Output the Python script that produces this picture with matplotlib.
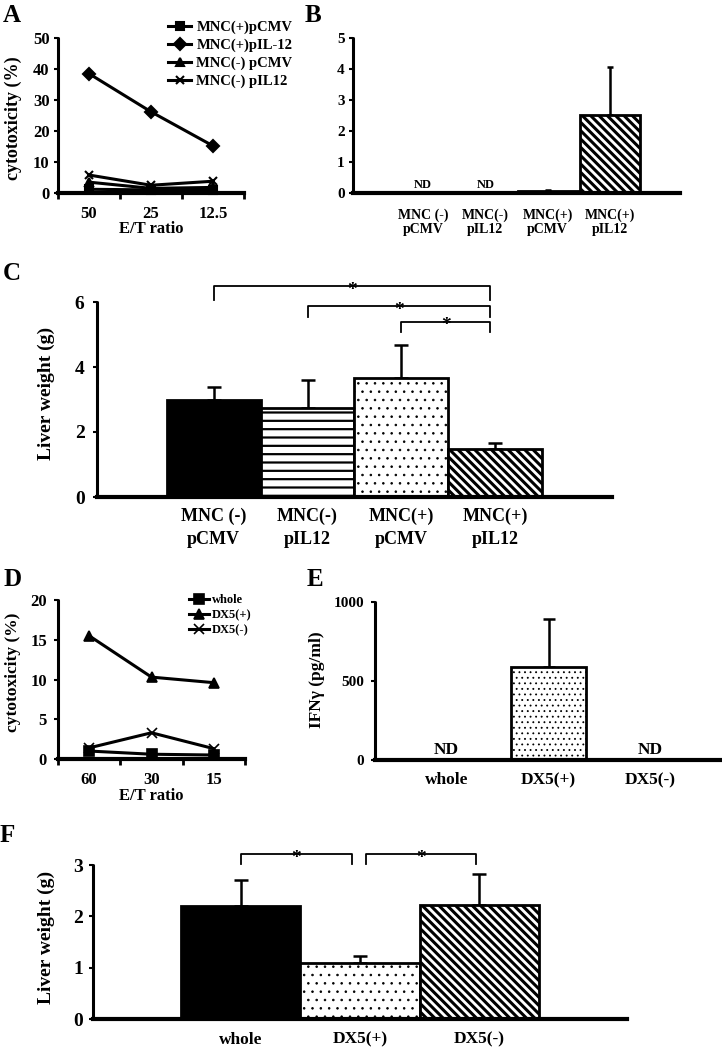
import matplotlib
matplotlib.use('Agg')
import matplotlib.pyplot as plt
import numpy as np

plt.rcParams['font.family'] = ['Liberation Serif', 'DejaVu Serif']
plt.rcParams['font.weight'] = 'bold'
plt.rcParams['axes.labelweight'] = 'bold'

# ---------------- data ----------------
# Panel A
a_ratios = ['50', '25', '12.5']
a_mnc_pos_pcmv = [1.2, 1.0, 1.0]
a_mnc_pos_pil12 = [38.5, 26.2, 15.2]
a_mnc_neg_pcmv = [3.5, 1.5, 1.8]
a_mnc_neg_pil12 = [5.8, 2.5, 3.8]
a_series_labels = ['MNC(+)pCMV', 'MNC(+)pIL-12', 'MNC(-) pCMV', 'MNC(-) pIL12']

# Panel B
b_groups = ['MNC (-)\npCMV', 'MNC(-)\npIL12', 'MNC(+)\npCMV', 'MNC(+)\npIL12']
b_values = [0.0, 0.0, 0.05, 2.52]
b_errors = [0.0, 0.0, 0.04, 1.55]
b_nd = [True, True, False, False]

# Panel C
c_groups = ['MNC (-)\npCMV', 'MNC(-)\npIL12', 'MNC(+)\npCMV', 'MNC(+)\npIL12']
c_values = [2.97, 2.73, 3.65, 1.48]
c_errors = [0.40, 0.87, 1.02, 0.19]

# Panel D
d_ratios = ['60', '30', '15']
d_whole = [1.0, 0.6, 0.5]
d_dx5_pos = [15.5, 10.3, 9.6]
d_dx5_neg = [1.4, 3.3, 1.3]
d_series_labels = ['whole', 'DX5(+)', 'DX5(-)']

# Panel E
e_groups = ['whole', 'DX5(+)', 'DX5(-)']
e_values = [0.0, 590.0, 0.0]
e_errors = [0.0, 300.0, 0.0]
e_nd = [True, False, True]

# Panel F
f_groups = ['whole', 'DX5(+)', 'DX5(-)']
f_values = [2.20, 1.10, 2.22]
f_errors = [0.50, 0.12, 0.60]

# ---------------- layout helpers ----------------
W, H = 722, 1048
fig = plt.figure(figsize=(W / 100, H / 100), dpi=100)


def rect(left, right, bottom, top):
    return [left / W, 1 - bottom / H, (right - left) / W, (bottom - top) / H]


def fx(x):
    return x / W


def fy(y):
    return 1 - y / H


def style(ax, lw=2.2):
    for s in ['top', 'right']:
        ax.spines[s].set_visible(False)
    ax.spines['left'].set_linewidth(lw)
    ax.spines['bottom'].set_linewidth(lw + 0.8)
    ax.spines['left'].set_capstyle('round')
    ax.tick_params(axis='y', direction='out', length=3, width=1.5)


def hatched_bars(ax, x, values, colors, hatches, hlws, width):
    bars = []
    for xi, v, c, h, hl in zip(x, values, colors, hatches, hlws):
        with plt.rc_context({'hatch.linewidth': hl}):
            b = ax.bar(xi, v, width=width, color=c, edgecolor='black',
                       linewidth=2.0, hatch=h, zorder=2)
        for p in b:
            if hasattr(p, 'set_hatch_linewidth'):
                p.set_hatch_linewidth(hl)
        bars.append(b)
    return bars


def up_errors(ax, x, values, errors, cap=4, lw=1.8):
    xs = [xi for xi, e in zip(x, errors) if e > 0]
    vs = [v for v, e in zip(values, errors) if e > 0]
    es = [e for e in errors if e > 0]
    ax.errorbar(xs, vs, yerr=[np.zeros(len(es)), es], fmt='none',
                ecolor='black', elinewidth=lw, capsize=cap, capthick=lw,
                zorder=1)


def bracket(ax, x1, x2, y, drop, size=14):
    ax.plot([x1, x1, x2, x2], [y - drop, y, y, y - drop], color='black',
            lw=1.3, clip_on=False)
    ax.annotate('*', xy=((x1 + x2) / 2, y), xytext=(0, -3),
                textcoords='offset points', ha='center', va='center',
                fontsize=size, annotation_clip=False)


# ---------------- Panel A ----------------
axA = fig.add_axes(rect(58, 244, 193, 38))
style(axA)
xa = np.arange(len(a_ratios))
markers_a = ['s', 'D', '^', 'x']
for vals, m, lab in zip([a_mnc_pos_pcmv, a_mnc_pos_pil12, a_mnc_neg_pcmv,
                         a_mnc_neg_pil12], markers_a, a_series_labels):
    axA.plot(xa, vals, color='black', lw=2.2, marker=m, markersize=6,
             markeredgewidth=1.5, label=lab, clip_on=False, zorder=3)
axA.set_xlim(-0.5, len(a_ratios) - 0.5)
axA.set_ylim(0, 50)
axA.set_yticks([0, 10, 20, 30, 40, 50])
axA.set_xticks(xa)
axA.set_xticklabels(a_ratios)
axA.set_xticks(np.arange(len(a_ratios) + 1) - 0.5, minor=True)
axA.tick_params(axis='x', which='major', length=0, pad=9, labelsize=12)
axA.tick_params(axis='x', which='minor', length=4, width=2, direction='out')
axA.tick_params(axis='y', labelsize=12, pad=3)
axA.legend(loc='upper left', bbox_to_anchor=(fx(168), fy(21)),
           bbox_transform=fig.transFigure, frameon=False, fontsize=10.5,
           handlelength=1.6, handletextpad=0.35, labelspacing=0.3,
           borderpad=0, borderaxespad=0)
fig.text(fx(151), fy(229), 'E/T ratio', ha='center', va='center', fontsize=12)
fig.text(fx(13), fy(118), 'cytotoxicity (%)', ha='center', va='center',
         rotation=90, fontsize=13)
fig.text(fx(3), fy(4), 'A', ha='left', va='top', fontsize=18)

# ---------------- Panel B ----------------
axB = fig.add_axes(rect(353, 680, 193, 38))
style(axB)
xb = np.arange(len(b_groups))
hatched_bars(axB, xb, b_values, ['white'] * 4,
             ['', '', '', '\\\\\\\\'], [1, 1, 1, 2.2], 0.96)
up_errors(axB, xb, b_values, b_errors, cap=2, lw=1.8)
for xi, nd in zip(xb, b_nd):
    if nd:
        axB.text(xi, 0.08, 'ND', ha='center', va='bottom', fontsize=9)
axB.set_xlim(-1.12, len(b_groups) - 1 + 1.12)
axB.set_ylim(0, 5)
axB.set_yticks([0, 1, 2, 3, 4, 5])
axB.set_xticks(xb)
axB.set_xticklabels(b_groups, fontsize=10, linespacing=1.1)
axB.tick_params(axis='x', length=0, pad=11)
axB.tick_params(axis='y', labelsize=11, pad=3)
fig.text(fx(305), fy(4), 'B', ha='left', va='top', fontsize=18)

# ---------------- Panel C ----------------
axC = fig.add_axes(rect(97, 612, 497, 302))
style(axC)
xc = np.arange(len(c_groups))
hatched_bars(axC, xc, c_values, ['black', 'white', 'white', 'white'],
             ['', '--', '..', '\\\\\\\\'], [1, 1.6, 0.6, 2.2], 1.0)
up_errors(axC, xc, c_values, c_errors, cap=5, lw=1.8)
axC.set_xlim(-1.24, len(c_groups) - 1 + 1.24)
axC.set_ylim(0, 6)
axC.set_yticks([0, 2, 4, 6])
axC.set_xticks(xc)
axC.set_xticklabels(c_groups, fontsize=13, linespacing=1.45)
axC.tick_params(axis='x', length=0, pad=8)
axC.tick_params(axis='y', labelsize=14, pad=6)
bracket(axC, 0, 2.94, 6.49, 0.43)
bracket(axC, 1, 2.94, 5.87, 0.34)
bracket(axC, 2, 2.94, 5.40, 0.32)
fig.text(fx(46), fy(393), 'Liver weight (g)', ha='center', va='center',
         rotation=90, fontsize=14)
fig.text(fx(3), fy(262), 'C', ha='left', va='top', fontsize=18)

# ---------------- Panel D ----------------
axD = fig.add_axes(rect(58, 245, 759, 600))
style(axD)
xd = np.arange(len(d_ratios))
markers_d = ['s', '^', 'x']
for vals, m, lab in zip([d_whole, d_dx5_pos, d_dx5_neg], markers_d,
                        d_series_labels):
    axD.plot(xd, vals, color='black', lw=2.2, marker=m, markersize=7,
             markeredgewidth=1.2, label=lab, clip_on=False, zorder=3)
axD.set_xlim(-0.5, len(d_ratios) - 0.5)
axD.set_ylim(0, 20)
axD.set_yticks([0, 5, 10, 15, 20])
axD.set_xticks(xd)
axD.set_xticklabels(d_ratios)
axD.set_xticks(np.arange(len(d_ratios) + 1) - 0.5, minor=True)
axD.tick_params(axis='x', which='major', length=0, pad=9, labelsize=12)
axD.tick_params(axis='x', which='minor', length=4, width=2, direction='out')
axD.tick_params(axis='y', labelsize=12, pad=5)
axD.legend(loc='upper left', bbox_to_anchor=(fx(189), fy(594)),
           bbox_transform=fig.transFigure, frameon=False, fontsize=9,
           handlelength=1.6, handletextpad=0.2, labelspacing=0.25,
           borderpad=0, borderaxespad=0)
fig.text(fx(151), fy(796), 'E/T ratio', ha='center', va='center', fontsize=12)
fig.text(fx(13), fy(672), 'cytotoxicity (%)', ha='center', va='center',
         rotation=90, fontsize=12.5)
fig.text(fx(3), fy(568), 'D', ha='left', va='top', fontsize=18)

# ---------------- Panel E ----------------
axE = fig.add_axes(rect(375, 722, 760, 602))
style(axE)
xe = np.arange(len(e_groups))
hatched_bars(axE, xe, e_values, ['white'] * 3, ['', '...', ''],
             [1, 0.6, 1], 0.74)
up_errors(axE, xe, e_values, e_errors, cap=4, lw=1.8)
for xi, nd in zip(xe, e_nd):
    if nd:
        axE.text(xi, 15, 'ND', ha='center', va='bottom', fontsize=12.5)
axE.set_xlim(-0.70, len(e_groups) - 1 + 0.70)
axE.set_ylim(0, 1000)
axE.set_yticks([0, 500, 1000])
axE.set_xticks(xe)
axE.set_xticklabels(e_groups, fontsize=12.5)
axE.tick_params(axis='x', length=0, pad=9)
axE.tick_params(axis='y', labelsize=11, pad=5)
fig.text(fx(317), fy(680), 'IFNγ (pg/ml)', ha='center', va='center',
         rotation=90, fontsize=12.5)
fig.text(fx(307), fy(568), 'E', ha='left', va='top', fontsize=18)

# ---------------- Panel F ----------------
axF = fig.add_axes(rect(93, 627, 1019, 865))
style(axF)
xf = np.arange(len(f_groups))
hatched_bars(axF, xf, f_values, ['black', 'white', 'white'],
             ['', '..', '\\\\\\\\'], [1, 0.6, 2.2], 1.0)
up_errors(axF, xf, f_values, f_errors, cap=5, lw=1.8)
axF.set_xlim(-1.24, len(f_groups) - 1 + 1.24)
axF.set_ylim(0, 3)
axF.set_yticks([0, 1, 2, 3])
axF.set_xticks(xf)
axF.set_xticklabels(f_groups, fontsize=12.5)
axF.tick_params(axis='x', length=0, pad=9)
axF.tick_params(axis='y', labelsize=14, pad=4)
bracket(axF, 0, 0.93, 3.21, 0.2)
bracket(axF, 1.05, 1.97, 3.21, 0.2)
fig.text(fx(46), fy(937), 'Liver weight (g)', ha='center', va='center',
         rotation=90, fontsize=14)
fig.text(fx(0), fy(824), 'F', ha='left', va='top', fontsize=18)

fig.savefig('out.png', dpi=100)
